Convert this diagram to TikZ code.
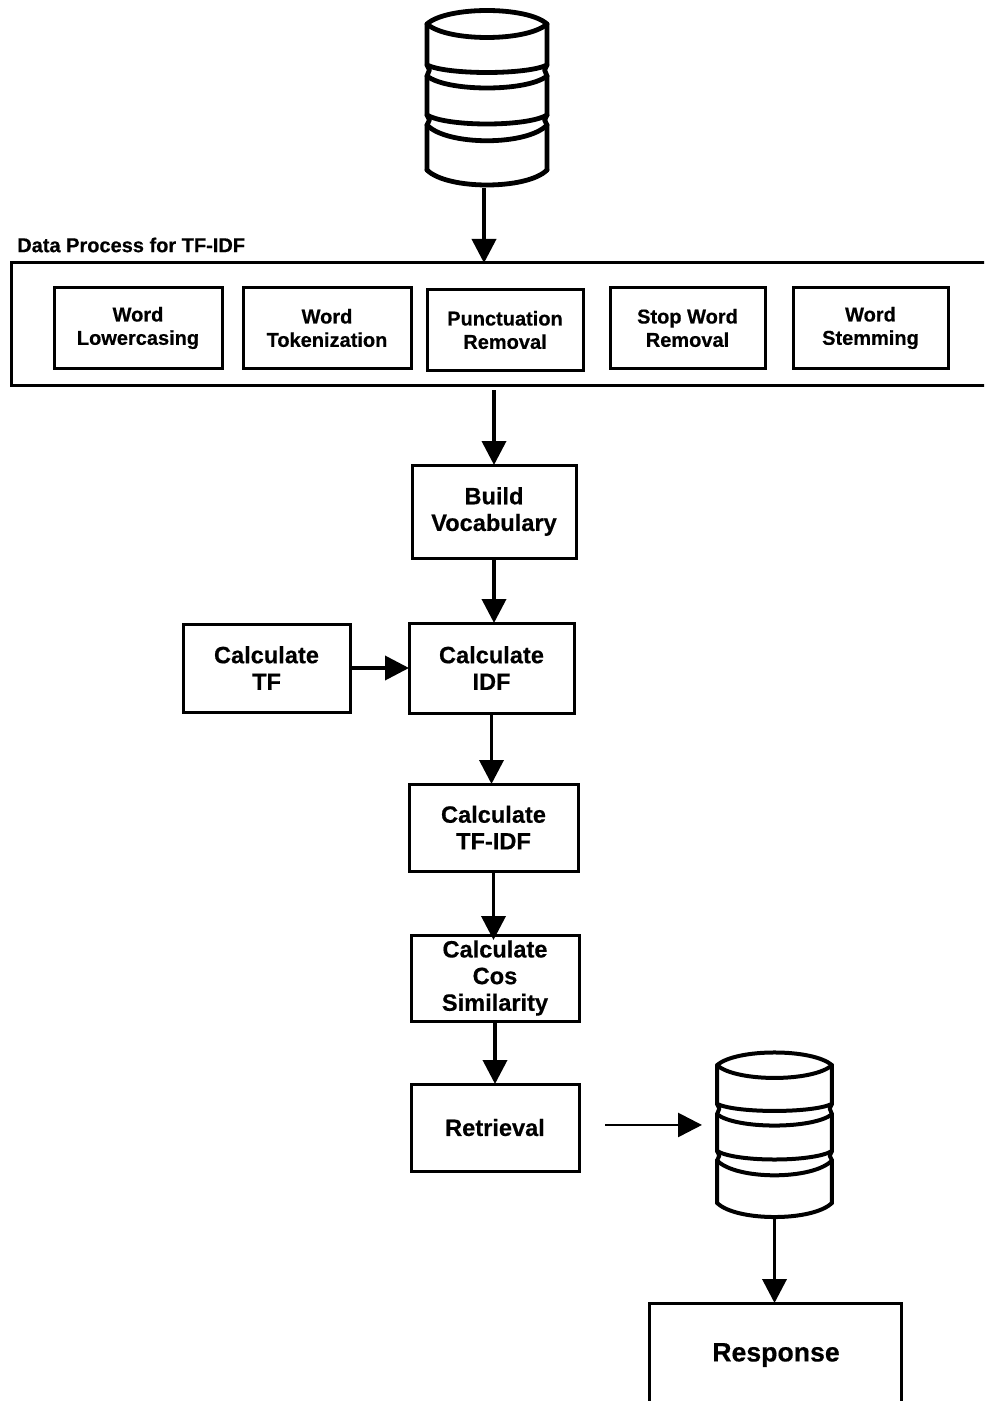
\documentclass[tikz,border=0pt]{standalone}
\usepackage{fontspec}
\setmainfont{Liberation Sans}[BoldFeatures={FakeBold=0.5}]
\usepackage{tikz}
\usetikzlibrary{calc}
\usetikzlibrary{arrows.meta}
\tikzstyle{every node}=[font=\bfseries]
\tikzstyle{bigbox}=[draw,line width=2.25pt,outer sep=0pt,align=center,inner sep=0pt,font=\bfseries\fontsize{17.7}{20}\selectfont]
\tikzstyle{smallbox}=[bigbox,font=\bfseries\fontsize{15}{17.5}\selectfont]
\tikzstyle{dbnode}=[outer sep=0pt,inner sep=0pt]
\tikzstyle{flow}=[->,line width=2.8pt]
\newcommand{\dbstack}[5]{
  \begin{scope}[shift={(#1,#2)},xscale=#3,yscale=#4,line width=#5,line join=round,line cap=round]
    \draw (-60,14) .. controls (-40,-4) and (40,-4) .. (60,14) .. controls (40,32) and (-40,32) .. cycle;
    \foreach \side in {-60,60}
      \draw (\side,14) -- (\side,55) -- (\side*0.96,60) -- (\side,66) -- (\side,105) -- (\side*0.96,110) -- (\side,115) -- (\side,160);
    \draw (-60,55) .. controls (-40,65) and (40,65) .. (60,55);
    \draw (-60,66) .. controls (-40,82) and (40,82) .. (60,66);
    \draw (-60,105) .. controls (-40,117) and (40,117) .. (60,105);
    \draw (-60,115) .. controls (-40,136) and (40,136) .. (60,115);
    \draw (-60,160) .. controls (-40,180) and (40,180) .. (60,160);
  \end{scope}
}

\begin{document}
\begin{tikzpicture}[line cap=butt,line join=miter,>={Triangle[length=18pt,width=18pt]},x=0.75pt,y=-0.75pt]
  \useasboundingbox (0,0) rectangle (984,1401);
  \clip (0,0) rectangle (984,1401);
  % databases
  \node[dbnode,minimum width=90pt,minimum height=131.25pt] (dbtop) at (487,97.5) {};
  \dbstack{487}{10}{1}{1}{3.6pt}
  \node[dbnode,minimum width=86.25pt,minimum height=123.75pt] (dbbottom) at (774.5,1134.5) {};
  \dbstack{774.5}{1052}{0.958}{0.943}{3pt}
  % data process
  \node[anchor=west,inner sep=0pt,font=\bfseries\fontsize{15}{17.5}\selectfont] (title) at (17,245) {Data Process for TF-IDF};
  \node[draw,line width=2.25pt,outer sep=0pt,minimum width=741.75pt,minimum height=91.5pt] (process) at (505.5,324) {};
  \node[smallbox,minimum width=126pt,minimum height=60pt] (lower) at (138,328) {Word\\Lowercasing};
  \node[smallbox,minimum width=126pt,minimum height=60pt] (token) at (327,328) {Word\\Tokenization};
  \node[smallbox,minimum width=117pt,minimum height=60pt] (punct) at (505,330) {Punctuation\\Removal};
  \node[smallbox,minimum width=116.25pt,minimum height=60pt] (stop) at (687.5,328) {Stop Word\\Removal};
  \node[smallbox,minimum width=116.25pt,minimum height=60pt] (stem) at (870.5,328) {Word\\Stemming};
  % main flow
  \node[bigbox,minimum width=123pt,minimum height=69.75pt] (vocab) at (494,511.5) {Build\\Vocabulary};
  \node[bigbox,minimum width=123.75pt,minimum height=67.5pt] (idf) at (491.5,668) {Calculate\\IDF};
  \node[bigbox,minimum width=125.25pt,minimum height=66pt] (tf) at (266.5,668) {Calculate\\TF};
  \node[bigbox,minimum width=126.75pt,minimum height=65.25pt] (tfidf) at (493.5,827.5) {Calculate\\TF-IDF};
  \node[bigbox,minimum width=126pt,minimum height=64.5pt] (cos) at (495,978) {Calculate\\Cos\\Similarity};
  \node[bigbox,minimum width=126pt,minimum height=65.25pt] (retrieval) at (495,1127.5) {Retrieval};
  \node[bigbox,minimum width=189pt,minimum height=110.25pt] (response) at (775,1376.5) {};
  \node[inner sep=0pt,font=\bfseries\fontsize{20}{22}\selectfont] (responsetext) at (776,1355) {Response};
  % arrows
  \draw[flow] ([xshift=-2.25pt,yshift=-2.25pt]dbtop.south) -- ([xshift=-2.25pt]dbtop.south |- process.north);
  \draw[flow] ([yshift=-3.75pt]vocab.north |- process.south) -- (vocab.north);
  \draw[flow] (vocab.south) -- (vocab.south |- idf.north);
  \draw[flow] (tf.east) -- (idf.west);
  \draw[flow] (idf.south) -- (idf.south |- tfidf.north);
  \draw[flow] (tfidf.south) -- ([yshift=-3.75pt]tfidf.south |- cos.north);
  \draw[flow] (cos.south) -- (retrieval.north);
  \draw[flow,line width=2pt] ([xshift=19.5pt,yshift=1.9pt]retrieval.east) -- ([xshift=-11.25pt,yshift=1.9pt]dbbottom.west |- retrieval.east);
  \draw[flow] (dbbottom.south) -- (dbbottom.south |- response.north);
\end{tikzpicture}
\end{document}
